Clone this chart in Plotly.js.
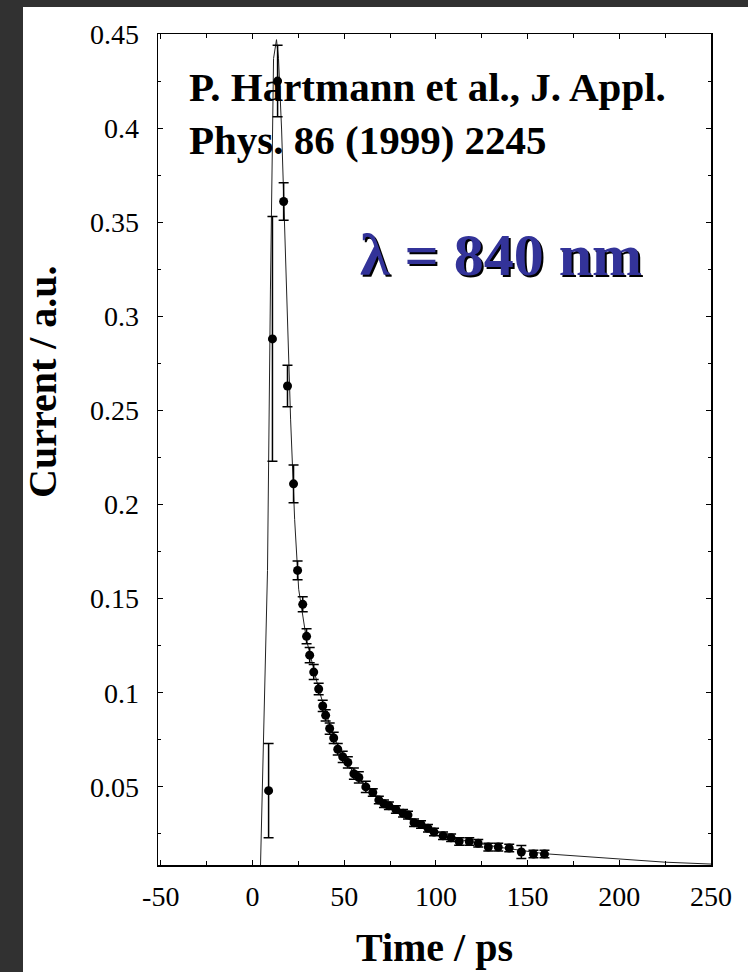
<!DOCTYPE html>
<html>
<head>
<meta charset="utf-8">
<script src="https://cdn.plot.ly/plotly-3.0.1.min.js"></script>
<style>
  html, body { margin: 0; padding: 0; background: #313131; }
  #chart { position: absolute; left: 0; top: 0; width: 748px; height: 972px; }
</style>
</head>
<body>
<div id="chart"></div>
<script>
// Photocurrent pulse measured at 840 nm: time (ps), current (a.u.), error
const timePs = [8.8, 10.9, 13.7, 17.0, 19.1, 22.4, 24.6, 27.4, 29.5, 31.2,
  33.4, 36.1, 38.3, 39.9, 42.1, 44.3, 46.5, 49.2, 52.0, 55.3,
  58.0, 61.8, 65.6, 68.9, 71.7, 74.4, 78.2, 82.1, 84.8, 88.1,
  91.9, 95.7, 99.0, 103.9, 108.3, 112.7, 118.2, 123.1, 128.6, 134.0,
  140.0, 146.6, 153.2, 159.2];
const current = [0.048, 0.288, 0.425, 0.361, 0.263, 0.211, 0.165, 0.147, 0.130, 0.120,
  0.111, 0.102, 0.093, 0.088, 0.081, 0.076, 0.070, 0.066, 0.063, 0.057,
  0.055, 0.050, 0.047, 0.043, 0.041, 0.040, 0.038, 0.036, 0.035, 0.031,
  0.030, 0.028, 0.026, 0.024, 0.023, 0.021, 0.021, 0.020, 0.018, 0.018,
  0.0175, 0.0154, 0.0143, 0.0143];
const currentErr = [0.025, 0.065, 0.019, 0.010, 0.011, 0.010, 0.005, 0.004, 0.004, 0.004,
  0.004, 0.003, 0.003, 0.003, 0.003, 0.003, 0.003, 0.003, 0.003, 0.003,
  0.003, 0.003, 0.002, 0.002, 0.002, 0.002, 0.002, 0.002, 0.002, 0.002,
  0.002, 0.002, 0.002, 0.002, 0.002, 0.002, 0.002, 0.002, 0.002, 0.002,
  0.002, 0.0035, 0.002, 0.002];

// Model curve through the pulse
const fitTime = [4.4, 8.2, 9.8, 11.5, 13.1, 14.2, 15.9, 17.0, 18.6, 20.8,
  23.0, 25.2, 29.5, 36.1, 44.3, 55.3, 68.9, 88.1, 108.3, 134.0,
  159.2, 200.0, 225.0, 250.0];
const fitCurrent = [0.0085, 0.165, 0.314, 0.437, 0.447, 0.437, 0.399, 0.362, 0.309, 0.245,
  0.192, 0.155, 0.128, 0.102, 0.076, 0.057, 0.043, 0.031, 0.023, 0.018,
  0.0145, 0.0117, 0.0100, 0.0090];

const xTicks = [-50, 0, 50, 100, 150, 200, 250];
const yTicks = [0.05, 0.1, 0.15, 0.2, 0.25, 0.3, 0.35, 0.4, 0.45];

const serif = 'Liberation Serif, Times New Roman, serif';

const traces = [
  {
    x: fitTime, y: fitCurrent, type: 'scatter', mode: 'lines',
    line: { color: '#222', width: 1 }, hoverinfo: 'skip'
  },
  {
    x: timePs, y: current, type: 'scatter', mode: 'markers',
    marker: { color: '#000', size: 9 },
    error_y: { type: 'data', array: currentErr, visible: true,
               color: '#000', thickness: 1.5, width: 5 }
  }
];

const layout = {
  width: 748, height: 972,
  margin: { l: 158, r: 37, t: 34, b: 107 },
  paper_bgcolor: '#313131', plot_bgcolor: '#ffffff',
  showlegend: false,
  font: { family: serif, color: '#000' },
  shapes: [
    {
      // white slide panel behind the chart
      type: 'rect', xref: 'paper', yref: 'paper', layer: 'below',
      x0: -0.24412, x1: 1.06691, y0: -0.12876, y1: 1.03249,
      fillcolor: '#ffffff', line: { width: 0 }
    }
  ],
  xaxis: {
    range: [-51.5, 250], tickvals: xTicks, ticktext: xTicks.map(String),
    ticks: 'inside', ticklen: 5, tickcolor: '#000',
    minor: { dtick: 25, tick0: 0, ticks: 'inside', ticklen: 4, tickcolor: '#000' },
    showline: true, linecolor: '#000', linewidth: 1.5, mirror: 'ticks',
    showgrid: false, zeroline: false,
    tickfont: { family: serif, size: 28, color: '#000' },
    ticklabelstandoff: 6,
    title: { text: 'Time / ps', font: { family: serif, size: 40, weight: 700, color: '#000' }, standoff: 22 }
  },
  yaxis: {
    range: [0.0085, 0.45], tickvals: yTicks, ticktext: yTicks.map(String),
    ticks: 'inside', ticklen: 5, tickcolor: '#000',
    minor: { dtick: 0.025, tick0: 0, ticks: 'inside', ticklen: 3, tickcolor: '#000' },
    showline: true, linecolor: '#000', linewidth: 1.5, mirror: 'ticks',
    showgrid: false, zeroline: false,
    tickfont: { family: serif, size: 28, color: '#000' },
    ticklabelstandoff: 12
  },
  annotations: [
    {
      // vertical axis label, placed above the axis midpoint
      xref: 'paper', yref: 'paper', x: -0.2098, y: 0.5824,
      xanchor: 'center', yanchor: 'middle', textangle: -90, showarrow: false,
      text: 'Current / a.u.',
      font: { family: serif, size: 40, weight: 700, color: '#000' }
    },
    {
      xref: 'paper', yref: 'paper', x: 0.052, y: 0.966,
      xanchor: 'left', yanchor: 'top', align: 'left', showarrow: false,
      text: 'P. Hartmann et al., J. Appl.<br>Phys. 86 (1999) 2245',
      font: { family: serif, size: 41, weight: 700, color: '#000' }
    },
    {
      xref: 'paper', yref: 'paper', x: 0.362, y: 0.734,
      xanchor: 'left', yanchor: 'middle', showarrow: false,
      text: 'λ = 840 nm',
      font: { family: serif, size: 60, weight: 700, color: '#333399',
              shadow: '2px 2px 0px #000' }
    }
  ]
};

Plotly.newPlot('chart', traces, layout, { staticPlot: true, displayModeBar: false });
</script>
</body>
</html>
